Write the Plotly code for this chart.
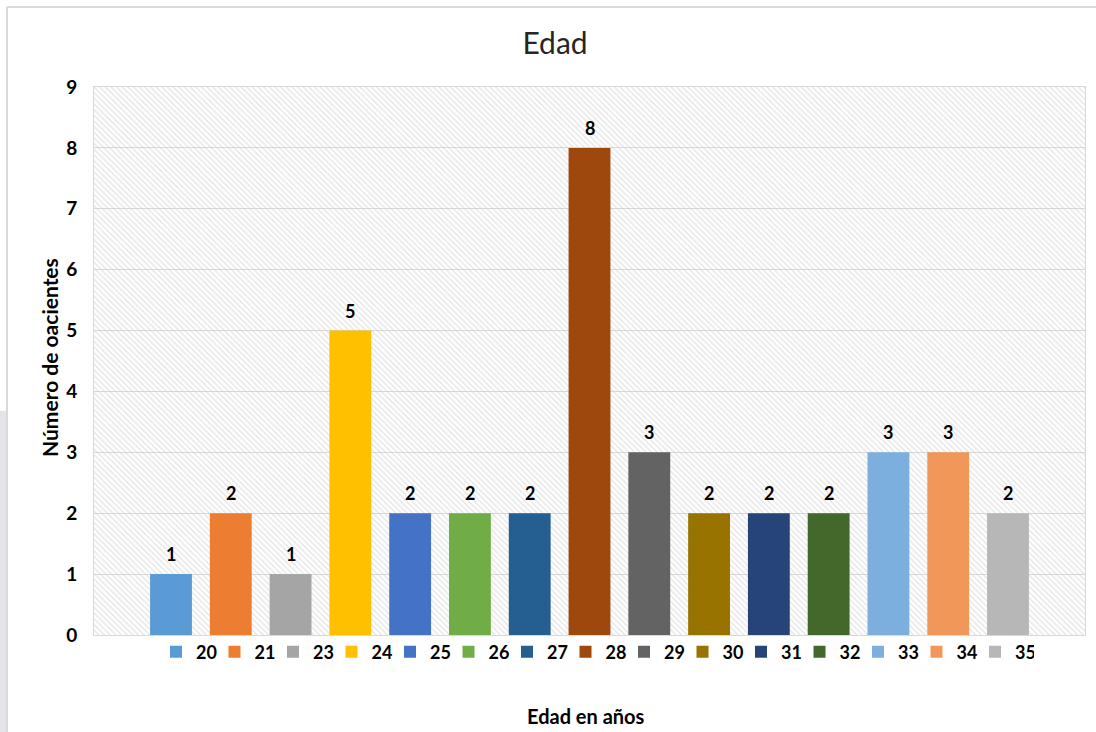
import plotly.graph_objects as go

ages = ["20", "21", "23", "24", "25", "26", "27", "28", "29", "30", "31", "32", "33", "34", "35"]
counts = [1, 2, 1, 5, 2, 2, 2, 8, 3, 2, 2, 2, 3, 3, 2]
colors = ["#5B9BD5", "#ED7D31", "#A5A5A5", "#FFC000", "#4472C4", "#70AD47", "#255E91",
          "#9E480E", "#636363", "#997300", "#264478", "#43682B", "#7CAFDD", "#F1975A", "#B7B7B7"]
y_ticks = list(range(0, 10))

W, H = 1096, 732
L, R, T, B = 94, 1085, 87, 635
FONT = "Lato"


def xp(px):
    return (px - L) / (R - L)


def yp(py):
    return (B - py) / (B - T)


fig = go.Figure()

# hatched plot-area background on the base (hidden numeric) x axis
fig.add_trace(go.Scatter(
    x=[0, 1, 1, 0, 0], y=[0, 0, 9, 9, 0], xaxis="x", yaxis="y",
    mode="lines", line=dict(width=0), fill="toself",
    fillcolor="rgba(0,0,0,0)",
    fillpattern=dict(shape="\\", fgcolor="#cccccc", bgcolor="rgba(255,255,255,0)", size=4, solidity=0.35),
    showlegend=False, hoverinfo="skip"))

for a, c, col in zip(ages, counts, colors):
    fig.add_trace(go.Bar(
        x=[a], y=[c], name=a, xaxis="x2", yaxis="y",
        marker=dict(color=col, line=dict(width=0)), width=0.7))

annotations = [
    dict(x=i, y=c, xref="x2", yref="y", text="<b>%d</b>" % c, showarrow=False,
         xanchor="center", yanchor="bottom", yshift=7,
         font=dict(family=FONT, size=18, color="#000000"))
    for i, c in enumerate(counts)
]
annotations += [
    dict(text="<b>Número de oacientes</b>", xref="paper", yref="paper",
         x=xp(49), y=yp(358), xanchor="center", yanchor="middle",
         textangle=-90, showarrow=False,
         font=dict(family=FONT, size=21, color="#000000")),
    dict(text="<b>Edad en años</b>", xref="paper", yref="paper",
         x=xp(586), y=yp(716), xanchor="center", yanchor="middle", showarrow=False,
         font=dict(family=FONT, size=20, color="#000000")),
]

fig.update_layout(
    width=W, height=H,
    margin=dict(l=L, r=W - R, t=T, b=H - B),
    paper_bgcolor="white", plot_bgcolor="white",
    barmode="overlay",
    font=dict(family=FONT, color="#000000"),
    title=dict(text="Edad", x=555 / W, xanchor="center", y=1 - 43 / H, yanchor="middle",
               yref="container", font=dict(family=FONT, size=30, color="#262626")),
    xaxis=dict(range=[0, 1], showticklabels=False, ticks="", showgrid=False,
               showline=True, linecolor="#d9d9d9", linewidth=1, mirror=True, zeroline=False),
    xaxis2=dict(type="category", categoryorder="array", categoryarray=ages,
                range=[-1.288, 15.288], overlaying="x", anchor="y", showticklabels=False, ticks="",
                showline=False, showgrid=False, zeroline=False),
    yaxis=dict(range=[0, 9], tickvals=y_ticks, showgrid=True, gridcolor="#d9d9d9", gridwidth=1,
               showline=True, linecolor="#d9d9d9", linewidth=1, mirror=True, zeroline=False,
               ticks="", ticklabelstandoff=12,
               tickfont=dict(family=FONT, size=19, color="#000000", weight="bold")),
    legend=dict(orientation="h", x=xp(156), xanchor="left", y=yp(652), yanchor="middle",
                font=dict(family=FONT, size=18, color="#000000", weight="bold"),
                entrywidth=13.5, entrywidthmode="pixels", traceorder="normal",
                itemwidth=30, bgcolor="rgba(0,0,0,0)"),
    annotations=annotations,
    shapes=[
        dict(type="rect", xref="paper", yref="paper", x0=xp(0), x1=xp(7), y0=yp(732), y1=yp(411),
             fillcolor="#e4e4ea", line=dict(width=0), layer="below"),
        dict(type="line", xref="paper", yref="paper", x0=xp(7), x1=xp(1096), y0=yp(7), y1=yp(7),
             line=dict(color="#d9d9d9", width=2)),
        dict(type="line", xref="paper", yref="paper", x0=xp(7), x1=xp(7), y0=yp(7), y1=yp(732),
             line=dict(color="#d9d9d9", width=2)),
    ],
)

fig.write_html("out.html")
